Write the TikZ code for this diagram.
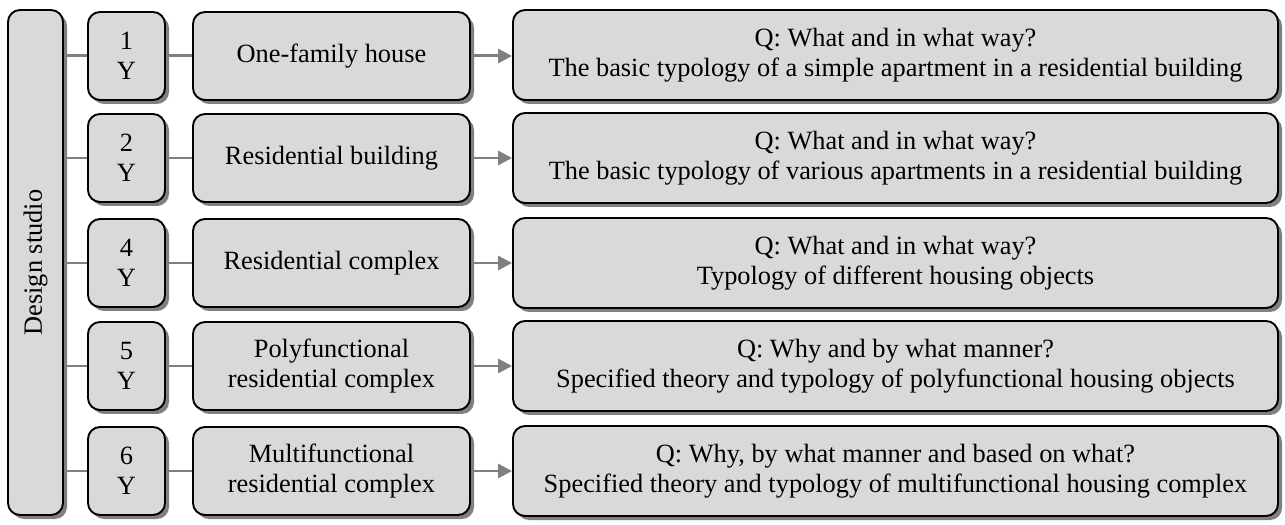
\documentclass[tikz,border=0pt]{standalone}
\usepackage{fontspec}
\setmainfont{Liberation Serif}
\usetikzlibrary{shadows,arrows.meta}

\begin{document}
\begin{tikzpicture}[
		box/.style={draw=black, line width=1.1pt, fill=black!15, rounded corners=0.24cm,
			drop shadow={shadow xshift=0.08cm, shadow yshift=-0.08cm, fill=black!50, opacity=1},
			align=center, inner sep=2pt, font=\fontsize{15}{17}\selectfont},
		yearbox/.style={box, minimum width=1.54cm, minimum height=1.76cm},
		objbox/.style={box, minimum width=5.54cm, minimum height=1.76cm},
		qbox/.style={box, minimum width=15.3cm, minimum height=1.8cm},
		link/.style={draw=black!50, line width=1.7pt},
		linkarrow/.style={link, -{Triangle[length=0.28cm, width=0.28cm]}}
	]
		%%%%% START %%%%%
		\useasboundingbox (0, 0) rectangle (25.7, 10.48);
		
		\node[box, rotate=90, minimum width=10.1cm, minimum height=1.1cm] (studio) at (0.71, 5.23) {Design studio};
		
		\node[yearbox] (y1) at (2.53, 9.36) {1\\Y};
		\node[yearbox] (y2) at (2.53, 7.32) {2\\Y};
		\node[yearbox] (y4) at (2.53, 5.22) {4\\Y};
		\node[yearbox] (y5) at (2.53, 3.16) {5\\Y};
		\node[yearbox] (y6) at (2.53, 1.06) {6\\Y};
		
		\node[objbox] (o1) at (6.63, 9.36) {One-family house};
		\node[objbox] (o2) at (6.63, 7.32) {Residential building};
		\node[objbox] (o4) at (6.63, 5.22) {Residential complex};
		\node[objbox] (o5) at (6.63, 3.16) {Polyfunctional\\residential complex};
		\node[objbox] (o6) at (6.63, 1.06) {Multifunctional\\residential complex};
		
		\node[qbox] (q1) at (17.91, 9.38) {Q: What and in what way?\\The basic typology of a simple apartment in a residential building};
		\node[qbox] (q2) at (17.91, 7.32) {Q: What and in what way?\\The basic typology of various apartments in a residential building};
		\node[qbox] (q4) at (17.91, 5.22) {Q: What and in what way?\\Typology of different housing objects};
		\node[qbox] (q5) at (17.91, 3.16) {Q: Why and by what manner?\\Specified theory and typology of polyfunctional housing objects};
		\node[qbox] (q6) at (17.91, 1.06) {Q: Why, by what manner and based on what?\\Specified theory and typology of multifunctional housing complex};
		
		\draw[link] (y1.west -| studio.south) -- (y1.west);
		\draw[link] (y2.west -| studio.south) -- (y2.west);
		\draw[link] (y4.west -| studio.south) -- (y4.west);
		\draw[link] (y5.west -| studio.south) -- (y5.west);
		\draw[link] (y6.west -| studio.south) -- (y6.west);
		
		\draw[link] (y1) -- (o1);
		\draw[link] (y2) -- (o2);
		\draw[link] (y4) -- (o4);
		\draw[link] (y5) -- (o5);
		\draw[link] (y6) -- (o6);
		
		\draw[linkarrow] (o1.east) -- (o1.east -| q1.west);
		\draw[linkarrow] (o2.east) -- (o2.east -| q2.west);
		\draw[linkarrow] (o4.east) -- (o4.east -| q4.west);
		\draw[linkarrow] (o5.east) -- (o5.east -| q5.west);
		\draw[linkarrow] (o6.east) -- (o6.east -| q6.west);
		%%%%% END %%%%%
	\end{tikzpicture}
\end{document}
